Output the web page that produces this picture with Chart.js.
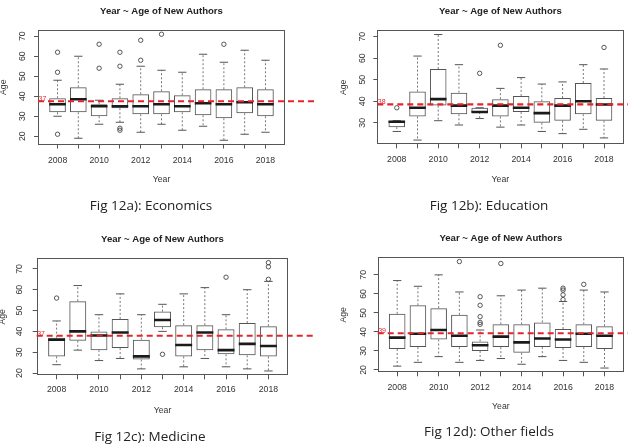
<!DOCTYPE html>
<html>
<head>
<meta charset="utf-8">
<script src="https://cdn.jsdelivr.net/npm/chart.js@4.4.1/dist/chart.umd.min.js"></script>
<style>
  html, body { margin: 0; padding: 0; background: #fff; }
  body { position: relative; width: 628px; height: 448px; overflow: hidden; }
  canvas { position: absolute; }
  .cap { position: absolute; width: 240px; margin-left: -120px; text-align: center;
         font-family: "Open Sans", sans-serif; font-size: 13.5px; line-height: 16px; color: #222; }
</style>
</head>
<body>
<canvas id="econ" width="314" height="224" style="left:0;top:0"></canvas>
<canvas id="edu" width="314" height="224" style="left:314px;top:0"></canvas>
<canvas id="med" width="314" height="224" style="left:0;top:224px"></canvas>
<canvas id="other" width="314" height="224" style="left:314px;top:224px"></canvas>
<div class="cap" style="left:151px;top:197px">Fig 12a): Economics</div>
<div class="cap" style="left:489px;top:197px">Fig 12b): Education</div>
<div class="cap" style="left:150px;top:428px">Fig 12c): Medicine</div>
<div class="cap" style="left:489px;top:423px">Fig 12d): Other fields</div>
<script>
const years = [2008, 2009, 2010, 2011, 2012, 2013, 2014, 2015, 2016, 2017, 2018]
const yTicks = [20, 30, 40, 50, 60, 70]
const titleText = 'Year ~ Age of New Authors'

// Economics
const econLow  = [30, 19, 26, 27, 22, 26, 23, 25, 18, 21, 22]
const econQ1   = [32, 32, 30, 34, 31, 31, 32, 30.5, 29, 31.5, 30]
const econMed  = [36, 38.5, 35, 35, 35, 36, 35, 36.5, 36, 37, 36]
const econQ3   = [39, 44.5, 36, 39, 41, 42.5, 40.5, 43.5, 43.5, 44.5, 43.5]
const econHigh = [48, 60, 38, 46, 55, 53, 52, 61, 57, 63, 58]
const econOut  = [[2008, 62], [2008, 52], [2008, 21], [2010, 66], [2010, 54], [2011, 62], [2011, 55],
                  [2011, 24], [2011, 23], [2012, 68], [2012, 58], [2013, 71], [2016, 66]]

// Education
const eduLow  = [26, 22, 31, 29, 32, 28, 29, 26, 25, 27, 23]
const eduQ1   = [28, 33, 38, 34, 35, 33, 35, 30, 31, 34, 31]
const eduMed  = [30.5, 37, 41, 38, 35, 38, 37, 34.5, 38, 40, 38.5]
const eduQ3   = [31, 44.5, 55, 44, 37, 41, 42.5, 40, 41.5, 48.5, 41.5]
const eduHigh = [31, 61, 71, 57, 37, 46, 51, 48, 49, 57, 55]
const eduOut  = [[2008, 37], [2012, 53], [2013, 66], [2018, 65]]

// Medicine
const medLow  = [24, 31, 26, 27, 22, 40, 23, 27, 23, 22, 21]
const medQ1   = [28, 35.5, 31, 32, 26.5, 42, 28, 31, 29, 28.5, 28]
const medMed  = [36, 40, 38, 39.5, 28, 45.5, 33.5, 39.5, 31, 34, 33]
const medQ3   = [37, 54.5, 40, 46, 36, 49.5, 43, 43, 41, 44, 42.5]
const medHigh = [45, 62, 48, 58, 48, 53, 58, 61, 48, 60, 64]
const medOut  = [[2008, 56], [2013, 29], [2016, 66], [2018, 65], [2018, 71], [2018, 73]]

// Other fields
const otherLow  = [22, 24, 27, 24, 25, 26, 23, 27, 25, 24, 21]
const otherQ1   = [31, 32, 36, 32, 30, 32, 29, 32, 31.5, 32, 31]
const otherMed  = [37, 39, 41, 38, 33, 37.5, 34.5, 36.5, 36, 39, 38]
const otherQ3   = [49.5, 54, 52.5, 49, 35, 44, 44, 45, 41.5, 44, 43]
const otherHigh = [67, 64, 70, 61, 41, 59, 62, 63, 56, 62, 61]
const otherOut  = [[2011, 77], [2012, 58.5], [2012, 54], [2012, 48], [2012, 45], [2012, 44], [2013, 76],
                   [2016, 63], [2016, 62], [2016, 59.5], [2016, 57], [2017, 65]]

// mean age line per field and the label printed next to it
const meanAge  = [37.5, 38.6, 37.9, 39.3]
const meanText = ['37', '38', '37', '39']

const panels = [
  { id: 'econ', low: econLow, q1: econQ1, med: econMed, q3: econQ3, high: econHigh, out: econOut,
    layout: { left: 38, top: 30, right: 285, bottom: 144.5, titleY: 11, ageX: 4, yTickX: 22.7, xTickY: 160.3, yearY: 180 } },
  { id: 'edu', low: eduLow, q1: eduQ1, med: eduMed, q3: eduQ3, high: eduHigh, out: eduOut,
    layout: { left: 63.3, top: 30.3, right: 309.5, bottom: 144.3, titleY: 11, ageX: 29.3, yTickX: 48.3, xTickY: 160, yearY: 180 } },
  { id: 'med', low: medLow, q1: medQ1, med: medMed, q3: medQ3, high: medHigh, out: medOut,
    layout: { left: 36.7, top: 34.3, right: 288.3, bottom: 151.3, titleY: 15, ageX: 2.7, yTickX: 20, xTickY: 166, yearY: 186.7 } },
  { id: 'other', low: otherLow, q1: otherQ1, med: otherMed, q3: otherQ3, high: otherHigh, out: otherOut,
    layout: { left: 63.7, top: 33.3, right: 310, bottom: 148.3, titleY: 14, ageX: 29.3, yTickX: 49.3, xTickY: 163.3, yearY: 182.7 } }
]

const FONT = '"Liberation Sans", Arial, Helvetica, sans-serif'
const TICK = 8.7
const tickFont = { family: FONT, size: TICK, lineHeight: 1 }
const TITLE = 9.6

function gap(chart) {
  const x = chart.scales.x
  return x.getPixelForValue(years[1]) - x.getPixelForValue(years[0])
}

const frame = {
  id: 'frame',
  afterDatasetsDraw(chart) {
    const { ctx, chartArea: a } = chart
    const l = Math.round(a.left) + 0.5, t = Math.round(a.top) + 0.5
    const r = Math.round(a.right) - 0.5, b = Math.round(a.bottom) - 0.5
    ctx.save()
    ctx.strokeStyle = '#555'
    ctx.lineWidth = 1
    ctx.strokeRect(l, t, r - l, b - t)
    ctx.restore()
  }
}

const meanLine = {
  id: 'meanLine',
  afterDatasetsDraw(chart, args, opts) {
    const { ctx, chartArea } = chart
    const y = chart.scales.y.getPixelForValue(opts.value)
    ctx.save()
    ctx.strokeStyle = '#e2262c'
    ctx.lineWidth = 2.2
    ctx.setLineDash([6, 4])
    ctx.beginPath()
    ctx.moveTo(chartArea.left, y)
    ctx.lineTo(chart.width, y)
    ctx.stroke()
    ctx.setLineDash([])
    ctx.fillStyle = '#e2262c'
    ctx.font = '7px ' + FONT
    ctx.textBaseline = 'middle'
    ctx.fillText(opts.label, chartArea.left + 0.5, y - 2)
    ctx.restore()
  }
}

panels.forEach((p, k) => {
  const b = p.layout
  const all = p.low.concat(p.high, p.out.map(o => o[1]))
  const lo = Math.min(...all)
  const hi = Math.max(...all)
  const yPad = (hi - lo) * 0.04
  const xExt = 0.5 + 0.04 * years.length
  const half = TICK / 2

  const whiskers = []
  years.forEach((yr, i) => {
    whiskers.push({ x: yr, y: p.q3[i] }, { x: yr, y: p.high[i] }, { x: yr, y: null })
    whiskers.push({ x: yr, y: p.q1[i] }, { x: yr, y: p.low[i] }, { x: yr, y: null })
  })

  const caps = []
  years.forEach((yr, i) => {
    caps.push({ x: yr, y: p.high[i] }, { x: yr, y: p.low[i] })
  })

  new Chart(document.getElementById(p.id), {
    type: 'bar',
    data: {
      datasets: [
        {
          type: 'scatter',
          data: years.map((yr, i) => ({ x: yr, y: p.med[i] })),
          pointStyle: 'line',
          pointRadius: c => 0.4 * gap(c.chart),
          pointBorderColor: '#1a1a1a',
          pointBorderWidth: 2.6,
          order: 0
        },
        {
          type: 'bar',
          data: years.map((yr, i) => ({ x: yr, y: [p.q1[i], p.q3[i]] })),
          backgroundColor: 'rgba(255,255,255,0)',
          borderColor: '#555',
          borderWidth: 1,
          borderSkipped: false,
          barPercentage: 0.8,
          categoryPercentage: 1,
          order: 1
        },
        {
          type: 'scatter',
          data: caps,
          pointStyle: 'line',
          pointRadius: c => 0.2 * gap(c.chart),
          pointBorderColor: '#555',
          pointBorderWidth: 1,
          order: 2
        },
        {
          type: 'line',
          data: whiskers,
          borderColor: '#777',
          borderWidth: 1,
          borderDash: [2, 2],
          pointRadius: 0,
          spanGaps: false,
          tension: 0,
          order: 3
        },
        {
          type: 'scatter',
          data: p.out.map(o => ({ x: o[0], y: o[1] })),
          pointStyle: 'circle',
          pointRadius: 2.2,
          pointBackgroundColor: 'rgba(0,0,0,0)',
          pointBorderColor: '#444',
          pointBorderWidth: 0.9,
          order: 4
        }
      ]
    },
    options: {
      responsive: false,
      devicePixelRatio: 1,
      animation: false,
      events: [],
      layout: {
        autoPadding: false,
        padding: { left: 0, top: 0, right: 314 - b.right, bottom: 224 - (b.yearY + half) }
      },
      scales: {
        x: {
          type: 'linear',
          min: years[0] - xExt,
          max: years[years.length - 1] + xExt,
          offset: false,
          afterBuildTicks: s => { s.ticks = years.map(v => ({ value: v })) },
          afterFit: s => { s.height = b.yearY + half - b.bottom },
          ticks: {
            autoSkip: false, maxRotation: 0, minRotation: 0,
            padding: b.xTickY - b.bottom - 4 - half,
            color: '#333', font: tickFont,
            callback: v => (v % 2 === 0 ? String(v) : '')
          },
          grid: { offset: false, drawOnChartArea: false, drawTicks: true, tickLength: 4, color: '#555' },
          border: { display: false },
          title: { display: true, text: 'Year', color: '#333', font: tickFont, padding: 0 }
        },
        y: {
          type: 'linear',
          min: lo - yPad,
          max: hi + yPad,
          afterBuildTicks: s => { s.ticks = yTicks.filter(v => v >= s.min && v <= s.max).map(v => ({ value: v })) },
          afterFit: s => { s.width = b.left },
          ticks: {
            minRotation: 90, maxRotation: 90, crossAlign: 'center',
            padding: b.left - 4 - TICK * 0.556 - b.yTickX,
            color: '#333', font: tickFont
          },
          grid: { drawOnChartArea: false, drawTicks: true, tickLength: 4, color: '#555' },
          border: { display: false },
          title: { display: true, text: 'Age', color: '#333', font: tickFont, padding: { top: b.ageX - half, bottom: 0 } }
        }
      },
      plugins: {
        legend: { display: false },
        tooltip: { enabled: false },
        title: {
          display: true,
          text: titleText,
          fullSize: false,
          color: '#222',
          font: { family: FONT, size: TITLE, weight: 'bold', lineHeight: 1 },
          padding: { top: b.titleY - TITLE / 2, bottom: b.top - b.titleY - TITLE / 2 }
        },
        meanLine: { value: meanAge[k], label: meanText[k] }
      }
    },
    plugins: [frame, meanLine]
  })
})
</script>
</body>
</html>
